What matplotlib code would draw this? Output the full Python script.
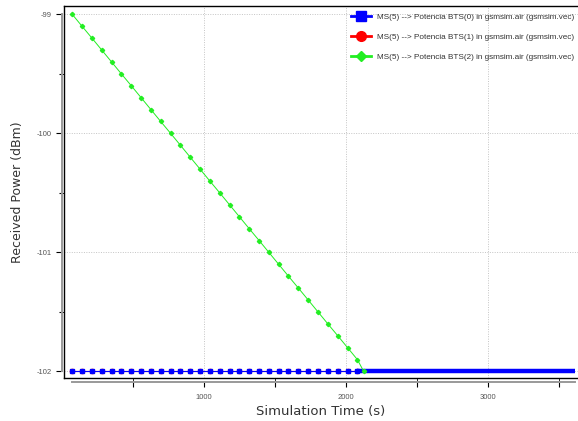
import matplotlib.pyplot as plt
from matplotlib.lines import Line2D

# data
t_bts2 = [72, 141, 211, 280, 349, 418, 488, 557, 626, 695, 765, 834, 903, 972,
          1041, 1111, 1180, 1249, 1318, 1388, 1457, 1526, 1595, 1665, 1734, 1803,
          1872, 1942, 2011, 2080, 2125]
p_bts2 = [-99.0, -99.1, -99.2, -99.3, -99.4, -99.5, -99.6, -99.7, -99.8, -99.9,
          -100.0, -100.1, -100.2, -100.3, -100.4, -100.5, -100.6, -100.7, -100.8,
          -100.9, -101.0, -101.1, -101.2, -101.3, -101.4, -101.5, -101.6, -101.7,
          -101.8, -101.9, -102.0]
t_bts0 = [72, 141, 211, 280, 349, 418, 488, 557, 626, 695, 765, 834, 903, 972,
          1041, 1111, 1180, 1249, 1318, 1388, 1457, 1526, 1595, 1665, 1734, 1803,
          1872, 1942, 2011, 2080]
p_bts0 = [-102.0] * len(t_bts0)
# after ~2127 s the BTS(0) samples are so dense they merge into a band
t_bts0_dense = [2080, 2127, 3613]
p_bts0_dense = [-102.0, -102.0, -102.0]
t_bts1 = t_bts0
p_bts1 = p_bts0

labels = ["MS(5) --> Potencia BTS(0) in gsmsim.air (gsmsim.vec)",
          "MS(5) --> Potencia BTS(1) in gsmsim.air (gsmsim.vec)",
          "MS(5) --> Potencia BTS(2) in gsmsim.air (gsmsim.vec)"]
colors = ["#0000ff", "#ff0000", "#22ee22"]

fig = plt.figure(figsize=(5.78, 4.21), dpi=100)
rect = [64 / 578, 43 / 421, 1 - 64 / 578, (378 - 6) / 421]
ax = fig.add_axes(rect)
ax.set_xlim(14, 3634)
ax.set_ylim(-102.055, -98.93)
for s in ["top", "left", "bottom"]:
    ax.spines[s].set_color("black")
    ax.spines[s].set_linewidth(1.0)
ax.spines["right"].set_visible(False)
ax.set_xticks(range(500, 3600, 500))
ax.set_yticks([-102, -101.5, -101, -100.5, -100, -99.5, -99])
ax.tick_params(length=0, labelleft=False, labelbottom=False)
ax.grid(True, color="#c4c4c4", linestyle=(0, (1, 1.5)), linewidth=0.7)
ax.set_axisbelow(True)

ax.plot(t_bts1, p_bts1, color=colors[1], lw=0.8, marker="o", ms=3, zorder=2)
ax.plot(t_bts0, p_bts0, color=colors[0], lw=0.8, marker="s", ms=3, zorder=3)
ax.plot(t_bts0_dense, p_bts0_dense, color=colors[0], lw=3.2, solid_capstyle="butt", zorder=3)
ax.plot(t_bts2, p_bts2, color=colors[2], lw=0.7, marker="D", ms=2.2, zorder=4)

# separate OMNeT-style axis lines
ax2 = fig.add_axes(rect, sharex=ax, sharey=ax)
ax2.patch.set_visible(False)
ax2.spines["top"].set_visible(False)
ax2.spines["right"].set_visible(False)
ax2.spines["left"].set_position(("outward", 1.5))
ax2.spines["bottom"].set_position(("outward", 2.7))
ax2.spines["left"].set_bounds(-102, -99)
ax2.spines["bottom"].set_bounds(72, 3613)
for s in ["left", "bottom"]:
    ax2.spines[s].set_color("#999999")
    ax2.spines[s].set_linewidth(1.4)
ax2.set_xticks([1000, 2000, 3000])
ax2.set_xticks([500, 1500, 2500, 3500], minor=True)
ax2.set_yticks([-102, -101, -100, -99])
ax2.set_yticks([-101.5, -100.5, -99.5], minor=True)
ax2.set_yticklabels(["-102", "-101", "-100", "-99"])
ax2.tick_params(axis="x", which="both", length=3.6, width=0.8, color="black",
                labelsize=5.5, labelcolor="#555555", pad=5,
                labelfontfamily="Liberation Sans")
ax2.tick_params(axis="y", which="major", length=4.3, width=0.8, color="black",
                labelsize=5.5, labelcolor="#555555", pad=3,
                labelfontfamily="Liberation Sans")
ax2.tick_params(axis="y", which="minor", length=2.2, width=0.8, color="black")
ax2.set_xlim(14, 3634)
ax2.set_ylim(-102.055, -98.93)

ax2.set_xlabel("Simulation Time (s)", fontsize=9.5, color="#333333", labelpad=3)
ax2.set_ylabel("Received Power (dBm)", fontsize=9, color="#333333", labelpad=9)

handles = [Line2D([], [], color=colors[0], lw=2, marker="s", ms=7),
           Line2D([], [], color=colors[1], lw=2, marker="o", ms=7),
           Line2D([], [], color=colors[2], lw=2, marker="D", ms=5.5)]
leg = fig.legend(handles, labels, loc="upper left",
                 bbox_to_anchor=(351 / 578, 1 - 13 / 421), frameon=False,
                 prop={"family": "Liberation Sans", "size": 5.9},
                 handlelength=2.5, handletextpad=0.7, labelspacing=1.5,
                 borderpad=0, borderaxespad=0)
for txt in leg.get_texts():
    txt.set_color("#333333")

fig.savefig("out.png", dpi=100)
